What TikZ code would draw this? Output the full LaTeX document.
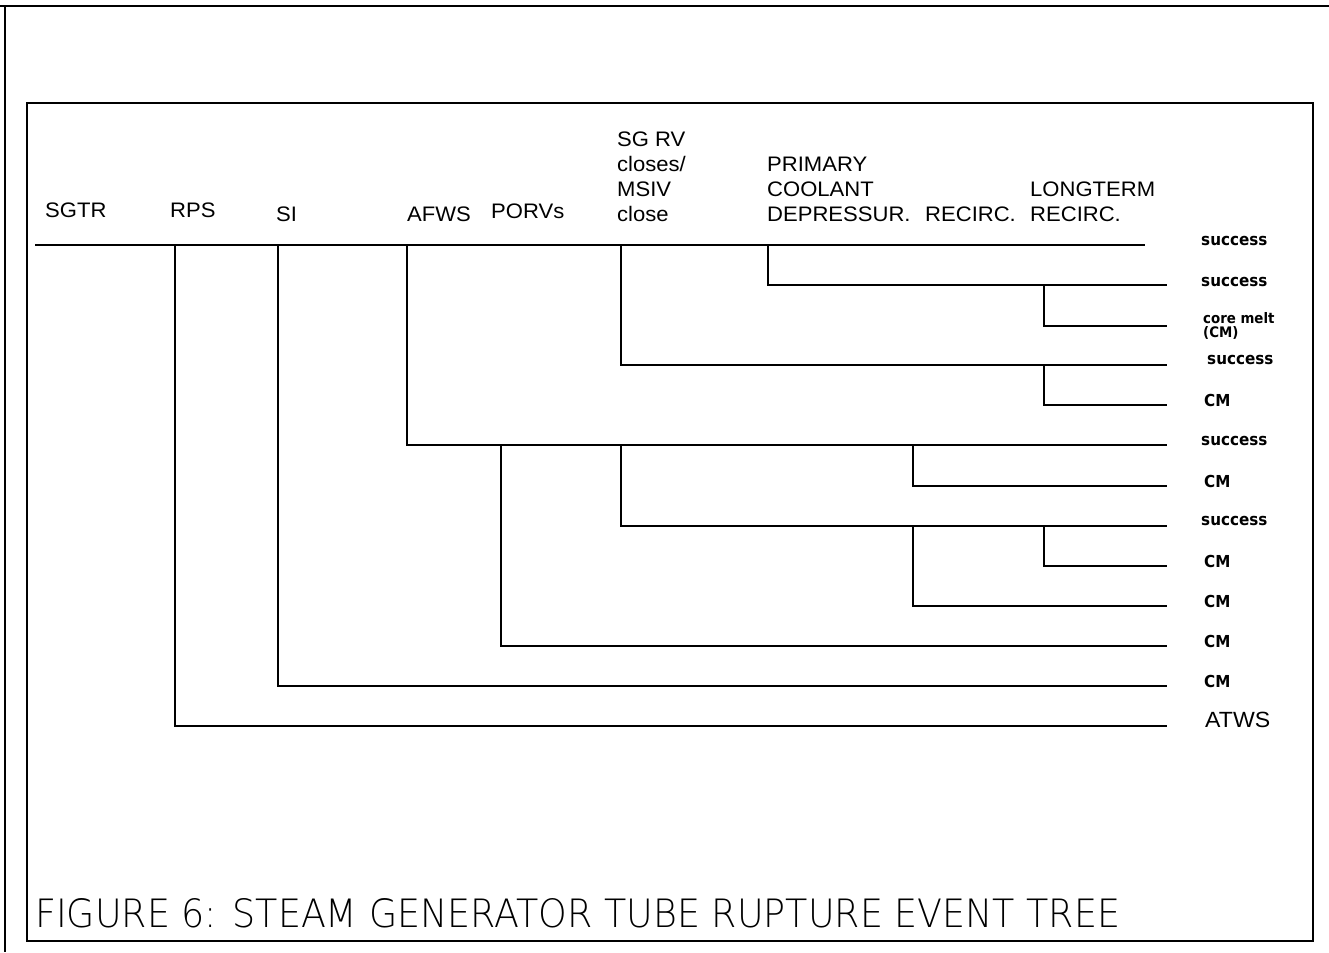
\documentclass[tikz,border=0pt]{standalone}
\usepackage{fontspec}
\setmainfont{Liberation Sans}[FakeStretch=1.05]
\newfontfamily\lblfont{DejaVu Sans}[FakeStretch=0.92]
\IfFontExistsTF{DejaVu Sans ExtraLight}%
  {\newfontfamily\capfont{DejaVu Sans ExtraLight}}%
  {\newfontfamily\capfont{DejaVu Sans}}
\begin{document}
\begin{tikzpicture}[x=1pt,y=-1pt,
  frame/.style={line width=1.8pt},
  outerframe/.style={line width=1.4pt},
  branch/.style={line width=2pt},
  head/.style={anchor=north west,inner sep=0pt,align=left,
    font=\fontsize{21}{25}\selectfont},
  endlbl/.style={anchor=west,inner sep=0pt,align=left,
    font=\lblfont\bfseries\fontsize{16.5}{13}\selectfont},
  cmlbl/.style={anchor=west,inner sep=0pt,align=left,
    font=\lblfont\bfseries\fontsize{14.5}{14}\selectfont},
  atwslbl/.style={anchor=west,inner sep=0pt,
    font=\fontsize{22}{25}\selectfont}]
\useasboundingbox (0,0) rectangle (1329,952);
% frames
\draw[outerframe] (0,6) -- (1329,6);
\draw[outerframe] (5,6) -- (5,952);
\draw[frame] (27,103) rectangle (1313,941);
% column headings
\node[head] (sgtr) at (45,203) {SGTR};
\node[head] (rps) at (170,203) {RPS};
\node[head] (si) at (276,207) {SI};
\node[head] (afws) at (407,207) {AFWS};
\node[head] (porv) at (491,204) {PORVs};
\node[head] (sgrv) at (617,132) {SG RV\\closes/\\MSIV\\close};
\node[head] (pcd) at (767,157) {PRIMARY\\COOLANT\\DEPRESSUR.};
\node[head] (rec) at (925,207) {RECIRC.};
\node[head] (ltr) at (1030,182) {LONGTERM\\RECIRC.};
% branch points
\coordinate (h0) at (35,245);
\coordinate (h1) at (1145,245);
\coordinate (bRPS) at (175,245);
\coordinate (bSI) at (278,245);
\coordinate (bAF) at (407,245);
\coordinate (bSG1) at (621,245);
\coordinate (bPC) at (768,245);
\coordinate (bLT1) at (1044,285);
\coordinate (bLT2) at (1044,365);
\coordinate (bPO) at (501,445);
\coordinate (bSG2) at (621,445);
\coordinate (bRC1) at (913,445);
\coordinate (bRC2) at (913,526);
\coordinate (bLT3) at (1044,526);
% branch ends
\coordinate (e2) at (1167,285);
\coordinate (e3) at (1167,326);
\coordinate (e4) at (1167,365);
\coordinate (e5) at (1167,405);
\coordinate (e6) at (1167,445);
\coordinate (e7) at (1167,486);
\coordinate (e8) at (1167,526);
\coordinate (e9) at (1167,566);
\coordinate (e10) at (1167,606);
\coordinate (e11) at (1167,646);
\coordinate (e12) at (1167,686);
\coordinate (e13) at (1167,726);
% tree
\draw[branch] (h0) -- (h1);
\draw[branch] (bRPS) |- (e13);
\draw[branch] (bSI) |- (e12);
\draw[branch] (bAF) |- (e6);
\draw[branch] (bPO) |- (e11);
\draw[branch] (bSG1) |- (e4);
\draw[branch] (bPC) |- (e2);
\draw[branch] (bLT1) |- (e3);
\draw[branch] (bLT2) |- (e5);
\draw[branch] (bSG2) |- (e8);
\draw[branch] (bRC1) |- (e7);
\draw[branch] (bRC2) |- (e10);
\draw[branch] (bLT3) |- (e9);
% outcomes
\node[endlbl] (o1) at (1201,241) {success};
\node[endlbl] (o2) at (1201,282) {success};
\node[cmlbl] (o3) at (1203,326) {core melt\\(CM)};
\node[endlbl] (o4) at (1207,360) {success};
\node[endlbl] (o5) at (1204,400) {CM};
\node[endlbl] (o6) at (1201,441) {success};
\node[endlbl] (o7) at (1204,481) {CM};
\node[endlbl] (o8) at (1201,521) {success};
\node[endlbl] (o9) at (1204,561) {CM};
\node[endlbl] (o10) at (1204,601) {CM};
\node[endlbl] (o11) at (1204,641) {CM};
\node[endlbl] (o12) at (1204,681) {CM};
\node[atwslbl] (o13) at (1205,720) {ATWS};
% caption
\node[anchor=base west,inner sep=0pt] (cap) at (35,927)
  {\resizebox{1085pt}{29pt}{\capfont FIGURE 6: STEAM GENERATOR TUBE RUPTURE EVENT TREE}};
\end{tikzpicture}
\end{document}
